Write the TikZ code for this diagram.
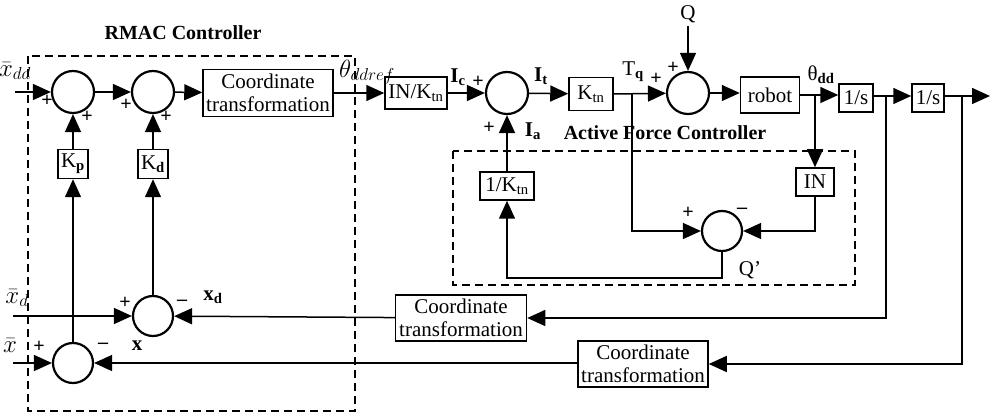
\documentclass[tikz,border=0pt]{standalone}
\usepackage{fontspec}
\setmainfont{Liberation Serif}
\usepackage{tikz}
\usetikzlibrary{shapes, arrows.meta, positioning}

\begin{document}
\begin{tikzpicture}[x=1pt, y=-1pt]
\tikzset{edge/.style = {-{Triangle[length=18pt,width=16pt]}, line width=1.5pt},
	every node/.style = {font=\fontsize{21}{23}\selectfont},
	sum/.style = {circle, draw, line width=2.2pt, minimum size=42pt, inner sep=0pt},
	blk/.style = {rectangle, draw, line width=1.5pt, inner sep=0pt, align=center},
	frame/.style = {dash pattern=on 8pt off 5pt, line width=1.6pt},
	sgn/.style = {inner sep=0pt, font=\bfseries\fontsize{20}{20}\selectfont},
	mth/.style = {font=\fontsize{23}{25}\selectfont},
	title/.style = {font=\bfseries\fontsize{20}{23}\selectfont}}
\useasboundingbox (0,0) rectangle (992,419);
            % controller frames
	\draw[frame] (28,56) rectangle (355,411);
	\draw[frame] (453,151) rectangle (855,285);
	\node[title] (rmac) at (183,33) {RMAC Controller};
	\node[title] (afc) at (665,133) {Active Force Controller};
            % vertices
	\node[sum] (s1) at (73,92) {};
	\node[sum] (s2) at (153,92) {};
	\node[blk, minimum width=130pt, minimum height=47pt] (ct1) at (268,93) {Coordinate\\transformation};
	\node[blk, minimum width=30pt, minimum height=29pt] (kp) at (73,164) {K\textsubscript{\textbf{p}}};
	\node[blk, minimum width=30pt, minimum height=29pt] (kd) at (153,164) {K\textsubscript{\textbf{d}}};
	\node[sum, minimum size=40pt] (s3) at (153,316) {};
	\node[sum, minimum size=40pt] (s4) at (73,363) {};
	\node[blk, minimum width=62pt, minimum height=32pt] (inktn) at (416,93) {IN/K\textsubscript{tn}};
	\node[sum] (s5) at (507,93) {};
	\node[blk, minimum width=44pt, minimum height=33pt] (ktn) at (591,94) {K\textsubscript{tn}};
	\node[sum] (s7) at (688,93) {};
	\node[] (q) at (688,14) {Q};
	\node[blk, minimum width=59pt, minimum height=36pt] (robot) at (770,95) {robot};
	\node[blk, minimum width=34pt, minimum height=28pt] (int1) at (856,98) {1/s};
	\node[blk, minimum width=32pt, minimum height=28pt] (int2) at (928,98) {1/s};
	\node[blk, minimum width=38pt, minimum height=28pt] (inb) at (815,182) {IN};
	\node[sum, minimum size=40pt] (s6) at (722,231) {};
	\node[blk, minimum width=54pt, minimum height=28pt] (ikt) at (507,186) {1/K\textsubscript{tn}};
	\node[blk, minimum width=131pt, minimum height=46pt] (ct2) at (461,318) {Coordinate\\transformation};
	\node[blk, minimum width=130pt, minimum height=46pt] (ct3) at (643,364) {Coordinate\\transformation};
            % branch and end points
	\coordinate (xdd) at (15,92);
	\coordinate (xd) at (13,316);
	\coordinate (xx) at (13,363);
	\coordinate (tq) at (632,94);
	\coordinate (thd) at (815,95);
	\coordinate (p1) at (886,96);
	\coordinate (p2) at (962,96);
	\coordinate (out) at (990,96);
	\coordinate (qb) at (722,278);
            % signals
	\node[mth] (lxdd) at (15,71) {$\bar{x}_{dd}$};
	\node[mth] (lxd) at (17,298) {$\bar{x}_{d}$};
	\node[mth] (lx) at (10,346) {$\bar{x}$};
	\node[mth] (lref) at (367,72) {$\theta_{ddref}$};
	\node[] (lic) at (458,77) {\textbf{I}\textsubscript{\textbf{c}}};
	\node[] (lit) at (541,76) {\textbf{I}\textsubscript{\textbf{t}}};
	\node[] (lia) at (533,131) {\textbf{I}\textsubscript{\textbf{a}}};
	\node[] (ltq) at (633,72) {T\textsubscript{\textbf{q}}};
	\node[] (lthd) at (821,75) {θ\textsubscript{\textbf{dd}}};
	\node[] (lqp) at (750,270) {Q’};
	\node[] (lxdb) at (213,297) {\textbf{x}\textsubscript{\textbf{d}}};
	\node[] (lxb) at (137,346) {\textbf{x}};
            % signs
	\node[sgn] at (47,101) {+};
	\node[sgn] at (87,117) {+};
	\node[sgn] at (126,105) {+};
	\node[sgn] at (166,117) {+};
	\node[sgn] at (478,82) {+};
	\node[sgn] at (489,128) {+};
	\node[sgn] at (656,79) {+};
	\node[sgn] at (673,68) {+};
	\node[sgn] at (688,213) {+};
	\node[sgn] at (742,211) {--};
	\node[sgn] at (125,303) {+};
	\node[sgn] at (182,303) {--};
	\node[sgn] at (39,347) {+};
	\node[sgn] at (103,346) {--};
            %edges
	\draw[edge] (xdd) to (s1);
	\draw[edge] (s1) to (s2);
	\draw[edge] (s2) to (ct1);
	\draw[edge] (ct1) to (inktn);
	\draw[edge] (inktn) to (s5);
	\draw[edge] (s5) to (ktn);
	\draw[edge] (ktn.east |- tq) to (s7);
	\draw[edge] (q) to (s7);
	\draw[edge] (s7) to (robot.west |- s7);
	\draw[edge] (robot.east |- thd) to (int1.west |- thd);
	\draw[edge] (int1.east |- p1) to (int2.west |- p1);
	\draw[edge] (int2.east |- p2) to (out);
	\draw[edge] (kp) to (s1);
	\draw[edge] (kd) to (s2);
	\draw[edge] (s4) to (kp);
	\draw[edge] (s3) to (kd);
	\draw[edge] (xd) to (s3);
	\draw[edge] (xx) to (s4);
	\draw[edge] (ct2) to (s3);
	\draw[edge] (ct3.west |- s4) to (s4);
	\draw[edge] (p1) |- (ct2);
	\draw[edge] (p2) |- (ct3);
	\draw[edge] (thd) to (inb);
	\draw[edge] (inb) |- (s6);
	\draw[edge] (tq) |- (s6);
	\draw[edge] (s6) -- (qb) -| (ikt);
	\draw[edge] (ikt) to (s5);
\end{tikzpicture}
\end{document}
